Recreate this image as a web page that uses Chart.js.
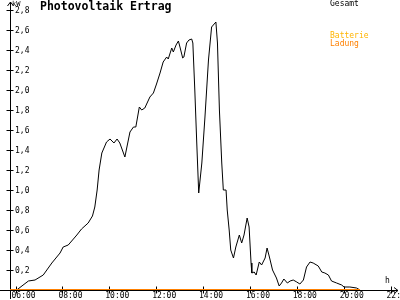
<!DOCTYPE html>
<html>
<head>
<meta charset="utf-8">
<style>
  html, body { margin: 0; padding: 0; background: #fff; }
</style>
<script src="https://cdn.jsdelivr.net/npm/chart.js@4/dist/chart.umd.min.js"></script>
</head>
<body>
<canvas id="pvChart" width="400" height="300"></canvas>
<script>
// ** Data **
const gesamtTimes = ["06:03","06:33","06:50","07:11","07:33","07:54","08:02","08:15","08:37","08:49",
  "09:06","09:17","09:23","09:29","09:34","09:41","09:53","10:02","10:12","10:20",
  "10:27","10:40","10:53","11:02","11:08","11:17","11:23","11:31","11:44","11:53",
  "12:01","12:10","12:18","12:27","12:31","12:40","12:44","12:51","12:57","13:01",
  "13:08","13:11","13:18","13:24","13:31","13:34","13:39","13:44","13:49","13:57",
  "14:05","14:14","14:22","14:33","14:37","14:42","14:48","14:52","14:59","15:02",
  "15:07","15:11","15:18","15:24","15:33","15:39","15:45","15:53","15:58","16:03",
  "16:05","16:11","16:16","16:24","16:30","16:39","16:44","16:50","16:58","17:08",
  "17:15","17:21","17:27","17:36","17:43","17:51","18:00","18:08","18:17","18:25",
  "18:34","18:42","18:55","19:04","19:12","19:21","19:29","19:42","19:55","20:01",
  "20:16","20:33","20:42"];
const gesamtKW = [0.00,0.09,0.10,0.15,0.27,0.37,0.43,0.45,0.55,0.61,
  0.67,0.74,0.83,1.00,1.20,1.37,1.48,1.51,1.47,1.51,
  1.47,1.33,1.58,1.63,1.63,1.83,1.80,1.82,1.93,1.97,
  2.06,2.17,2.28,2.33,2.31,2.42,2.38,2.45,2.49,2.43,
  2.32,2.33,2.47,2.50,2.51,2.47,2.00,1.47,0.97,1.27,
  1.73,2.30,2.63,2.68,2.47,1.80,1.27,1.00,1.00,0.80,
  0.60,0.40,0.32,0.43,0.55,0.47,0.55,0.72,0.63,0.27,
  0.17,0.18,0.15,0.28,0.25,0.32,0.42,0.33,0.20,0.12,
  0.04,0.07,0.11,0.07,0.09,0.10,0.08,0.06,0.10,0.23,
  0.28,0.27,0.24,0.18,0.17,0.15,0.09,0.07,0.05,0.03,
  0.03,0.02,0.00];
const ladungTimes = ["05:46","20:42"];
const ladungKW = [0, 0];
const yTickValues = [0.2,0.4,0.6,0.8,1.0,1.2,1.4,1.6,1.8,2.0,2.2,2.4,2.6,2.8];
const yTickLabels = ["0,2","0,4","0,6","0,8","1,0","1,2","1,4","1,6","1,8","2,0","2,2","2,4","2,6","2,8"];
const xTickLabels = ["06:00","08:00","10:00","12:00","14:00","16:00","18:00","20:00","22:00"];

function toHours(t) {
    const [h, m] = t.split(":").map(Number);
    return h + m / 60;
}

const FONT = "'DejaVu Sans Mono', monospace";

// ** Axes, ticks and texts drawn on top of the scales **
const axesPlugin = {
    id: "pvAxes",
    beforeDatasetsDraw(chart) {
        const ctx = chart.ctx;
        const xs = chart.scales.x, ys = chart.scales.y;
        const x0 = Math.round(xs.left) + 0.5;
        const y0 = Math.round(ys.getPixelForValue(0)) + 0.5;
        ctx.save();
        ctx.strokeStyle = "#000";
        ctx.lineWidth = 1;
        ctx.beginPath();
        // y axis with arrow
        ctx.moveTo(x0, 299); ctx.lineTo(x0, 2);
        ctx.moveTo(x0 - 3, 6); ctx.lineTo(x0, 2); ctx.lineTo(x0 + 3, 6);
        // x axis with arrow
        ctx.moveTo(0, y0); ctx.lineTo(398, y0);
        ctx.moveTo(394, y0 - 3); ctx.lineTo(398, y0); ctx.lineTo(394, y0 + 3);
        yTickValues.forEach(v => {
            const py = Math.round(ys.getPixelForValue(v)) + 0.5;
            ctx.moveTo(x0 - 4, py); ctx.lineTo(x0 + 3, py);
        });
        xTickLabels.forEach(l => {
            const px = Math.round(xs.getPixelForValue(toHours(l))) + 0.5;
            ctx.moveTo(px, y0 - 4); ctx.lineTo(px, y0 + 3);
        });
        ctx.stroke();
        ctx.restore();
    },
    afterDraw(chart) {
        const ctx = chart.ctx;
        const xs = chart.scales.x, ys = chart.scales.y;
        ctx.save();
        ctx.fillStyle = "#000";
        ctx.textBaseline = "middle";
        ctx.textAlign = "left";
        ctx.font = "8px " + FONT;
        yTickValues.forEach((v, i) => {
            ctx.fillText(yTickLabels[i], 15, ys.getPixelForValue(v) + 1);
        });
        ctx.textBaseline = "top";
        xTickLabels.forEach(l => {
            ctx.fillText(l, xs.getPixelForValue(toHours(l)) - 4, 292);
        });
        ctx.fillText("h", 385, 277);
        ctx.font = "7px " + FONT;
        ctx.fillText("kW", 12, 1);
        ctx.font = "bold 11.5px " + FONT;
        ctx.fillText("Photovoltaik Ertrag", 40, 1);
        ctx.font = "8px " + FONT;
        ctx.fillText("Gesamt", 330, 0);
        ctx.fillStyle = "#ffb400";
        ctx.fillText("Batterie", 330, 32);
        ctx.fillStyle = "#ff8000";
        ctx.fillText("Ladung", 330, 40);
        ctx.restore();
    }
};

const ctx = document.getElementById("pvChart").getContext("2d");
new Chart(ctx, {
    type: "line",
    data: {
        datasets: [
            {
                label: "Gesamt",
                data: gesamtTimes.map((t, i) => ({ x: toHours(t), y: gesamtKW[i] })),
                borderColor: "#000",
                borderWidth: 1,
                pointRadius: 0,
                tension: 0,
                order: 2
            },
            {
                label: "Ladung",
                data: ladungTimes.map((t, i) => ({ x: toHours(t), y: ladungKW[i] })),
                borderColor: "#ff8000",
                borderWidth: 2,
                pointRadius: 0,
                order: 1
            }
        ]
    },
    options: {
        responsive: false,
        animation: false,
        layout: { padding: { left: 10, right: 2, top: 3, bottom: 10 } },
        plugins: { legend: { display: false }, tooltip: { enabled: false } },
        scales: {
            x: { type: "linear", min: 5.765, max: 22.32, display: false },
            y: { min: 0, max: 2.87, display: false }
        }
    },
    plugins: [axesPlugin]
});
</script>
</body>
</html>
